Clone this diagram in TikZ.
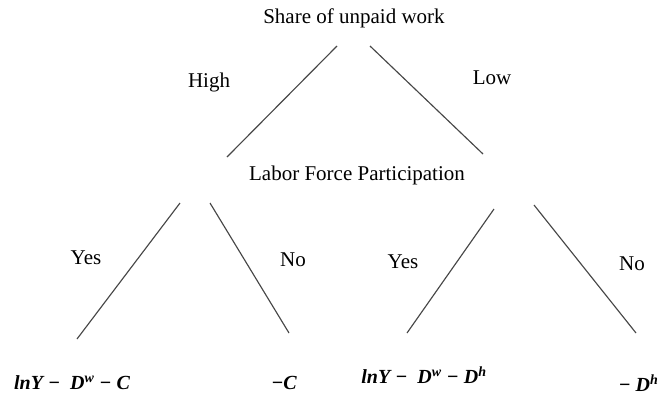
\documentclass[tikz,border=0pt]{standalone}
\usepackage{fontspec}
\setmainfont{Liberation Serif}

\begin{document}
\begin{tikzpicture}[x=1pt, y=-1pt, font=\fontsize{21}{25}\selectfont]
    \tikzset{branch/.style = {draw=black!72, line width=1.15pt}}
    \tikzset{payoff/.style = {font=\fontsize{20}{24}\selectfont\bfseries\itshape}}
    \useasboundingbox (0,0) rectangle (664,397);
    % decision nodes and branch labels
    \node (share) at (354,18) {Share of unpaid work};
    \node (high) at (209,82) {High};
    \node (low) at (492,78) {Low};
    \node (lfp) at (357,175) {Labor Force Participation};
    \node (yesL) at (86,258) {Yes};
    \node (noL) at (293,260) {No};
    \node (yesR) at (403,262) {Yes};
    \node (noR) at (632,264) {No};
    % payoffs
    \node[payoff] (payA) at (72,383) {lnY −\ \ D\textsuperscript{w} − C};
    \node[payoff] (payB) at (284,383) {−C};
    \node[payoff] (payC) at (424,375) {lnY −\ \ D\textsuperscript{w} − D\textsuperscript{h}};
    \node[payoff, anchor=east] (payD) at (662,383) {− D\textsuperscript{h}};
    % branch ends
    \coordinate (highTop) at (337,46);
    \coordinate (highEnd) at (227,157);
    \coordinate (lowTop) at (370,46);
    \coordinate (lowEnd) at (483,154);
    \coordinate (yesLTop) at (180,203);
    \coordinate (yesLEnd) at (77,339);
    \coordinate (noLTop) at (210,203);
    \coordinate (noLEnd) at (289,333);
    \coordinate (yesRTop) at (494,209);
    \coordinate (yesREnd) at (407,333);
    \coordinate (noRTop) at (534,205);
    \coordinate (noREnd) at (636,333);
    \draw[branch] (highTop) -- (highEnd);
    \draw[branch] (lowTop) -- (lowEnd);
    \draw[branch] (yesLTop) -- (yesLEnd);
    \draw[branch] (noLTop) -- (noLEnd);
    \draw[branch] (yesRTop) -- (yesREnd);
    \draw[branch] (noRTop) -- (noREnd);
\end{tikzpicture}
\end{document}
